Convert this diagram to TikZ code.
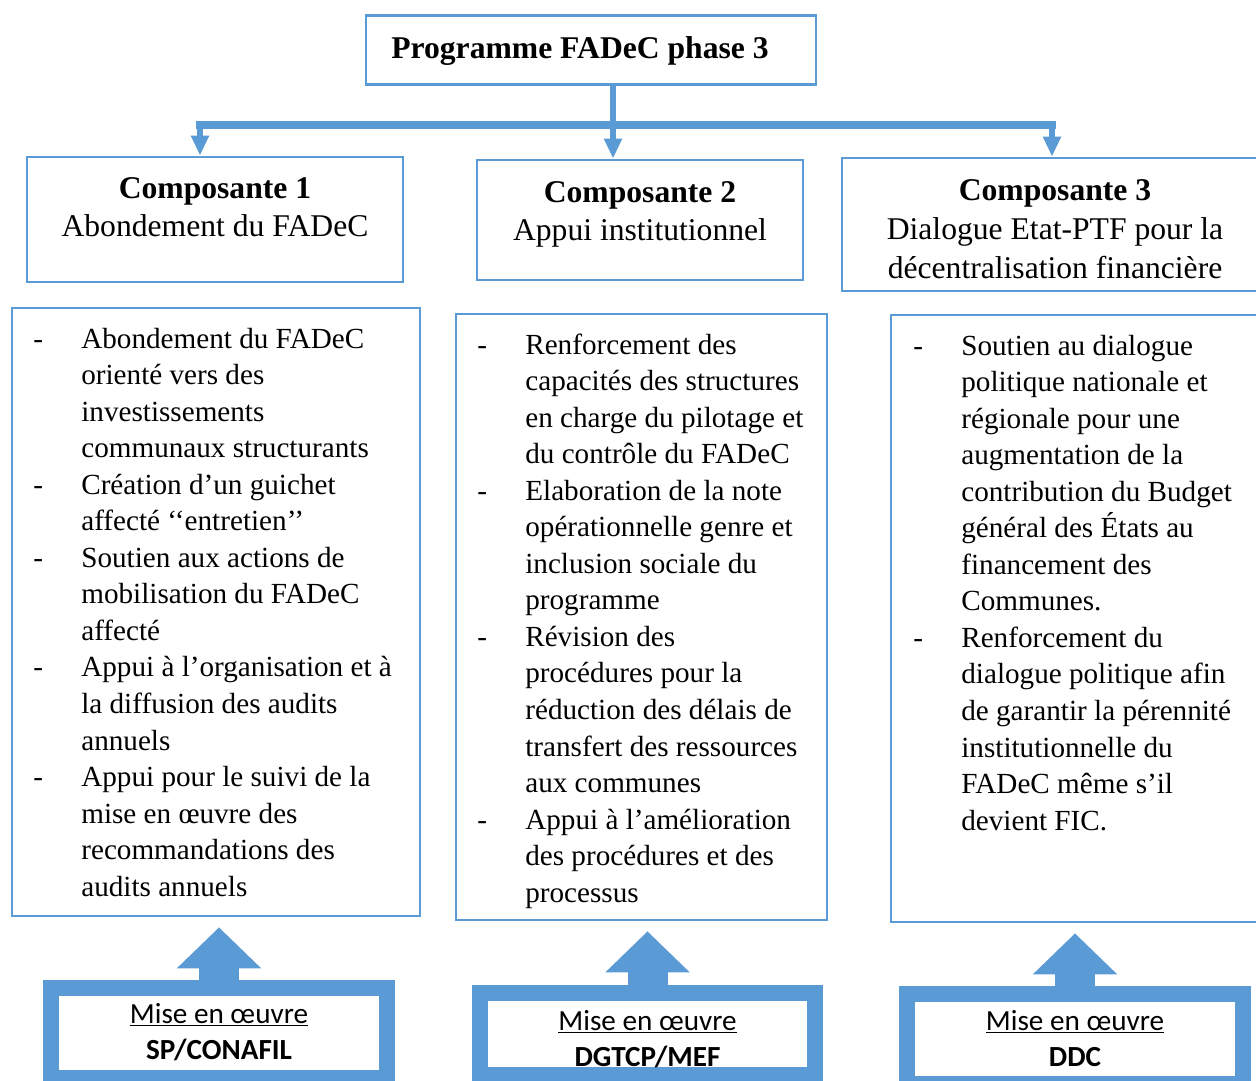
\documentclass[tikz,border=0pt]{standalone}
\usepackage{fontspec}
\setmainfont{Liberation Serif}
\newfontfamily\calibri{Carlito}
\usetikzlibrary{arrows.meta}
\definecolor{fadecblue}{RGB}{91,155,213}

\begin{document}
\begin{tikzpicture}[x=0.02cm, y=-0.02cm,
	box/.style={draw=fadecblue, line width=1.6pt, shape=rectangle, inner sep=0pt},
	headtext/.style={font=\fontsize{18}{21.8}\selectfont, inner sep=0pt, anchor=base},
	listtext/.style={font=\fontsize{16.6}{20.8}\selectfont, inner sep=0pt, anchor=base west},
	stem/.style={draw=fadecblue, line width=3.4pt, -{Triangle[width=0.34cm, length=0.4cm]}},
	bar/.style={draw=fadecblue, line width=4.5pt, line cap=rect},
	frame/.style={draw=fadecblue, line width=0.32cm, shape=rectangle, minimum width=6.72cm, inner sep=0pt},
	mectext/.style={font=\calibri\fontsize{16.6}{21}\selectfont, inner sep=0pt, anchor=base},
	blockarrow/.style={draw=fadecblue, line width=0.8cm, -{Triangle[width=1.64cm, length=0.82cm]}, shorten >=0.2cm}]
				\clip (0,0) rectangle (1256,1080);
				\fill[white] (0,0) rectangle (1256,1080);
				% Boxes and texts:
				\node[box, minimum width=9.0cm, minimum height=1.38cm] (title) at (591, 50){} node[headtext] (titletxt) at (580, 58){\textbf{Programme FADeC phase 3}};
				\node[box, minimum width=7.52cm, minimum height=2.5cm] (c1) at (215, 219.5){} node[headtext] (c1txt) at (215, 198){\begin{tabular}[t]{@{}c@{}}\textbf{Composante 1}\\ Abondement du FADeC\end{tabular}};
				\node[box, minimum width=6.52cm, minimum height=2.4cm] (c2) at (640, 220){} node[headtext] (c2txt) at (640, 202){\begin{tabular}[t]{@{}c@{}}\textbf{Composante 2}\\ Appui institutionnel\end{tabular}};
				\node[box, minimum width=8.4cm, minimum height=2.66cm] (c3) at (1052, 224.5){} node[headtext, font=\fontsize{18}{22.2}\selectfont] (c3txt) at (1055, 200){\begin{tabular}[t]{@{}c@{}}\textbf{Composante 3}\\ Dialogue Etat-PTF pour la\\ décentralisation financière\end{tabular}};
				\node[box, minimum width=8.16cm, minimum height=12.16cm] (l1) at (216, 612){} node[listtext] (l1txt) at (33, 348){\begin{tabular}[t]{@{}p{0.96cm}@{}l@{}}
					- & Abondement du FADeC\\
					  & orienté vers des\\
					  & investissements\\
					  & communaux structurants\\
					- & Création d’un guichet\\
					  & affecté ‘‘entretien’’\\
					- & Soutien aux actions de\\
					  & mobilisation du FADeC\\
					  & affecté\\
					- & Appui à l’organisation et à\\
					  & la diffusion des audits\\
					  & annuels\\
					- & Appui pour le suivi de la\\
					  & mise en œuvre des\\
					  & recommandations des\\
					  & audits annuels
				\end{tabular}};
				\node[box, minimum width=7.42cm, minimum height=12.12cm] (l2) at (641.5, 617){} node[listtext] (l2txt) at (477, 354){\begin{tabular}[t]{@{}p{0.96cm}@{}l@{}}
					- & Renforcement des\\
					  & capacités des structures\\
					  & en charge du pilotage et\\
					  & du contrôle du FADeC\\
					- & Elaboration de la note\\
					  & opérationnelle genre et\\
					  & inclusion sociale du\\
					  & programme\\
					- & Révision des\\
					  & procédures pour la\\
					  & réduction des délais de\\
					  & transfert des ressources\\
					  & aux communes\\
					- & Appui à l’amélioration\\
					  & des procédures et des\\
					  & processus
				\end{tabular}};
				\node[box, minimum width=7.42cm, minimum height=12.14cm] (l3) at (1076.5, 618.5){} node[listtext] (l3txt) at (913, 355){\begin{tabular}[t]{@{}p{0.96cm}@{}l@{}}
					- & Soutien au dialogue\\
					  & politique nationale et\\
					  & régionale pour une\\
					  & augmentation de la\\
					  & contribution du Budget\\
					  & général des États au\\
					  & financement des\\
					  & Communes.\\
					- & Renforcement du\\
					  & dialogue politique afin\\
					  & de garantir la pérennité\\
					  & institutionnelle du\\
					  & FADeC même s’il\\
					  & devient FIC.
				\end{tabular}};
				% Mise en oeuvre frames:
				\node[frame, minimum height=1.8cm] (f1) at (219, 1033){} node[mectext] (f1txt) at (219, 1023){\begin{tabular}[t]{@{}c@{}}\underline{Mise en œuvre}\\ \textbf{SP/CONAFIL}\end{tabular}};
				\node[frame, minimum height=1.63cm] (f2) at (647.5, 1034){} node[mectext] (f2txt) at (647.5, 1030){\begin{tabular}[t]{@{}c@{}}\underline{Mise en œuvre}\\ \textbf{DGTCP/MEF}\end{tabular}};
				\node[frame, minimum height=1.81cm] (f3) at (1075, 1039){} node[mectext] (f3txt) at (1075, 1030){\begin{tabular}[t]{@{}c@{}}\underline{Mise en œuvre}\\ \textbf{DDC}\end{tabular}};
				% Connectors:
				\coordinate (j1) at (200, 125);
				\coordinate (j2) at (613, 125);
				\coordinate (j3) at (1052, 125);
				\draw[bar] (j1) -- (j3);
				\draw[stem] (j2 |- title.south) -- (j2 |- c2.north);
				\draw[stem] (j1) -- (j1 |- c1.north);
				\draw[stem] (j3) -- (j3 |- c3.north);
				\draw[blockarrow] (f1.north) -- (f1.north |- l1.south);
				\draw[blockarrow] (f2.north) -- (f2.north |- l2.south);
				\draw[blockarrow] (f3.north) -- (f3.north |- l3.south);
			\end{tikzpicture}
\end{document}
